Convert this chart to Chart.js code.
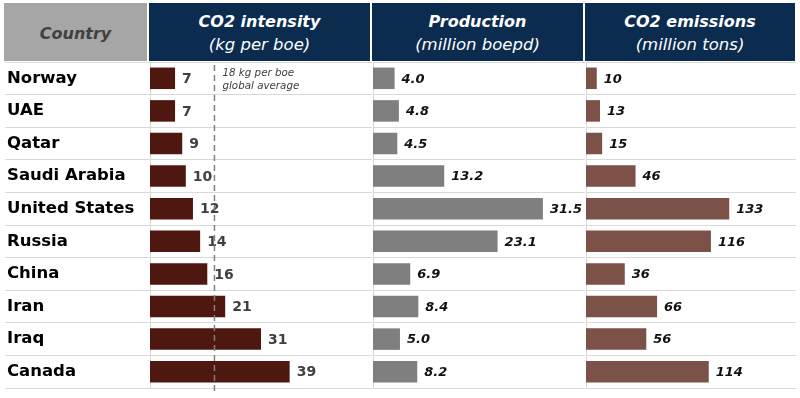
<!DOCTYPE html>
<html>
<head>
<meta charset="utf-8">
<script src="https://cdn.jsdelivr.net/npm/chart.js@4"></script>
<style>
  body { margin: 0; width: 800px; height: 398px; background: #fff; position: relative; overflow: hidden; font-family: 'DejaVu Sans', Verdana, sans-serif; }
  canvas { position: absolute; top: 62px; }
  .head { position: absolute; top: 3px; height: 58px; background: #0b2b4f; color: #fff; text-align: center; }
  .head b { display: block; font-size: 16px; font-style: italic; margin-top: 9px; }
  .head i { display: block; font-size: 16.5px; margin-top: 4px; }
  #hCountry { left: 4px; width: 143px; background: #a6a6a6; color: #404040; }
  #hCountry b { margin-top: 21px; }
</style>
</head>
<body>
<div class="head" id="hCountry"><b>Country</b></div>
<div class="head" style="left:149px;width:221px"><b>CO2 intensity</b><i>(kg per boe)</i></div>
<div class="head" style="left:372px;width:211px"><b>Production</b><i>(million boepd)</i></div>
<div class="head" style="left:585px;width:210px"><b>CO2 emissions</b><i>(million tons)</i></div>

<canvas id="c1" width="372" height="336" style="left:0"></canvas>
<canvas id="c2" width="213" height="336" style="left:372px"></canvas>
<canvas id="c3" width="211" height="336" style="left:585px"></canvas>

<script>
const countries = ['Norway', 'UAE', 'Qatar', 'Saudi Arabia', 'United States', 'Russia', 'China', 'Iran', 'Iraq', 'Canada'];
const intensity = [7, 7, 9, 10, 12, 14, 16, 21, 31, 39];      // kg per boe
const production = [4.0, 4.8, 4.5, 13.2, 31.5, 23.1, 6.9, 8.4, 5.0, 8.2];  // million boepd
const emissions = [10, 13, 15, 46, 133, 116, 36, 66, 56, 114]; // million tons
const globalAverage = 18;

Chart.defaults.font.family = "'DejaVu Sans', Verdana, sans-serif";
Chart.defaults.color = '#000';

const lineColor = '#d9d9d9';

// value labels right of the bars
function valueLabels(font, color, fmt) {
  return {
    id: 'valueLabels',
    afterDatasetsDraw(chart) {
      const ctx = chart.ctx;
      const meta = chart.getDatasetMeta(0);
      ctx.save();
      ctx.font = font;
      ctx.fillStyle = color;
      ctx.textAlign = 'left';
      ctx.textBaseline = 'middle';
      meta.data.forEach((bar, i) => {
        ctx.fillText(fmt(chart.data.datasets[0].data[i]), bar.x + 7, bar.y + 1);
      });
      ctx.restore();
    }
  };
}

// dashed global average line + note
const averageLine = {
  id: 'averageLine',
  afterDraw(chart) {
    const ctx = chart.ctx;
    const x = chart.scales.x.getPixelForValue(globalAverage);
    const area = chart.chartArea;
    ctx.save();
    ctx.strokeStyle = '#808080';
    ctx.lineWidth = 1.5;
    ctx.setLineDash([6, 4]);
    ctx.beginPath();
    ctx.moveTo(x, area.top + 3);
    ctx.lineTo(x, area.bottom + 5);
    ctx.stroke();
    ctx.fillStyle = '#404040';
    ctx.font = 'italic 10.3px "DejaVu Sans"';
    ctx.textBaseline = 'middle';
    ctx.fillText('18 kg per boe', x + 8, area.top + 11);
    ctx.fillText('global average', x + 8, area.top + 24);
    ctx.restore();
  }
};

function makeChart(id, values, color, xMax, first, labelPlugin, extra) {
  const yAxis = first ? {
    type: 'category', offset: true,
    grid: { offset: true, color: lineColor, drawTicks: true, tickLength: 145 },
    border: { display: true, color: lineColor },
    ticks: { crossAlign: 'far', font: { size: 16.5, weight: 'bold' }, color: '#000' },
    afterFit(scale) { scale.width = 143; scale.paddingTop = 0; scale.paddingBottom = 0; }
  } : {
    type: 'category', offset: true,
    grid: { offset: true, color: lineColor, drawTicks: false },
    border: { display: true, color: lineColor },
    ticks: { display: false },
    afterFit(scale) { scale.width = 1; scale.paddingTop = 0; scale.paddingBottom = 0; }
  };
  return new Chart(document.getElementById(id), {
    type: 'bar',
    data: {
      labels: countries,
      datasets: [{ data: values, backgroundColor: color, barPercentage: 0.66, categoryPercentage: 1 }]
    },
    options: {
      indexAxis: 'y',
      responsive: false,
      animation: false,
      layout: { padding: { left: first ? 7 : 0, right: 0, top: 0, bottom: 10 } },
      plugins: { legend: { display: false }, tooltip: { enabled: false } },
      scales: {
        x: { display: false, min: 0, max: xMax },
        y: yAxis
      }
    },
    plugins: [labelPlugin].concat(extra || [])
  });
}

makeChart('c1', intensity, '#4e1710', 62, true,
  valueLabels('bold 14px "DejaVu Sans"', '#404040', v => String(v)), [averageLine]);
makeChart('c2', production, '#7f7f7f', 39.3, false,
  valueLabels('italic bold 13px "DejaVu Sans"', '#111', v => v.toFixed(1)));
makeChart('c3', emissions, '#7b5148', 195, false,
  valueLabels('italic bold 13px "DejaVu Sans"', '#111', v => String(v)));
</script>
</body>
</html>
